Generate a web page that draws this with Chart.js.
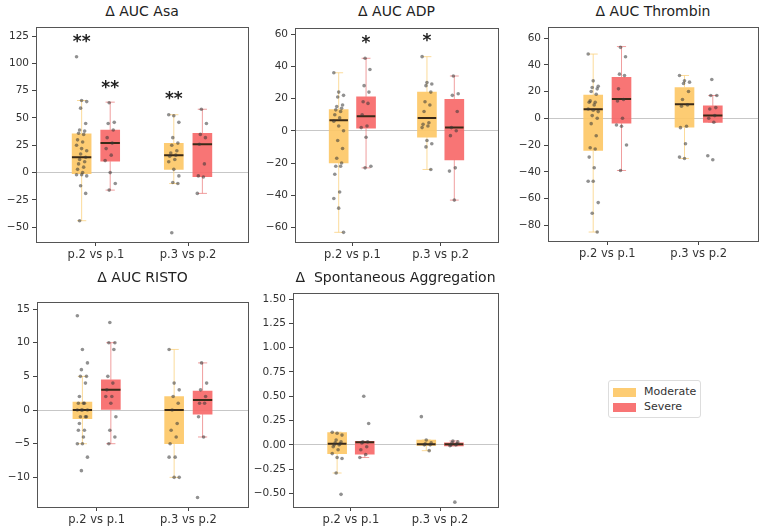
<!DOCTYPE html>
<html>
<head>
<meta charset="utf-8">
<script src="https://cdn.jsdelivr.net/npm/chart.js@4.4.1/dist/chart.umd.min.js"></script>
<style>
  body { margin: 0; background: #fff; font-family: "DejaVu Sans", sans-serif; }
  #wrap { position: relative; width: 768px; height: 531px; overflow: hidden; }
  .panel { position: absolute; }
  .title { position: absolute; font-size: 14px; color: #222; text-align: center; white-space: pre; }
  .legend { position: absolute; left: 608px; top: 380px; width: 91px; height: 36px; border: 1px solid #ddd; border-radius: 3px; font-size: 11px; color: #333; }
  .legend .row { position: absolute; left: 4px; height: 12px; }
  .legend .sw { position: absolute; left: 0; top: 2px; width: 23px; height: 9px; }
  .legend .lb { position: absolute; left: 31px; top: -1px; }
</style>
</head>
<body>
<div id="wrap"></div>
<script>
// categories / series
const groups = ['p.2 vs p.1', 'p.3 vs p.2'];
const seriesNames = ['Moderate', 'Severe'];

// box stats per group: [whisker low, q1, median, q3, whisker high]
const asaModBox = [[-44, -1, 14, 35.5, 66], [-10, 3, 16, 26.7, 53]];
const asaSevBox = [[-16, 10.5, 27, 39, 64.5], [-19, -3.6, 26, 36, 58]];
const adpModBox = [[-63, -20, 6.5, 13.2, 36], [-24, -4, 8, 24, 46]];
const adpSevBox = [[-23, 1.6, 9, 21, 45], [-43, -18, 2, 19.5, 34]];
const thrModBox = [[-85, -24, 6.8, 17.3, 48], [-30, -6.6, 10.5, 23, 32]];
const thrSevBox = [[-39, -3.7, 14.4, 30.7, 53.6], [-3, -3, 2, 9.3, 17]];
const ristoModBox = [[-5, -1.3, 0, 1.2, 5], [-10, -5, 0, 2, 9]];
const ristoSevBox = [[-5, 0, 3, 4.5, 10], [-4, -0.6, 1.5, 2.8, 7]];
const spoModBox = [[-0.29, -0.09, 0.01, 0.125, 0.13], [-0.06, -0.005, 0.005, 0.05, 0.05]];
const spoSevBox = [[-0.13, -0.095, 0.027, 0.035, 0.035], [-0.01, -0.01, 0.005, 0.02, 0.04]];

// individual observations per group
const asaModPts = [
  [106, 66, 65, 59, 45, 39, 38, 36, 35, 30, 28, 25, 22, 20, 17, 14, 12, 10, 8, 5, 3, 0, -2, -2, -3, -12, -19, -44],
  [53, 52, 46, 32, 27, 25, 20, 18, 16, 15, 12, 10, 3, -3, -9, -10, -55]];
const asaSevPts = [
  [64, 46, 45, 39, 32, 27, 22, 16, 11, 0, -10, -16],
  [58, 45, 35, 32, 26, 8, -3, -4, -19]];
const adpModPts = [
  [36, 24, 22, 21, 16, 15, 14, 13, 12, 10, 8, 6, 3, 0, -6, -11, -17, -20, -22, -22, -27, -38, -42, -48, -63],
  [46, 30, 29, 28, 24, 18, 16, 12, 5, 4, 3, 2, -6, -8, -10, -24]];
const adpSevPts = [
  [45, 38, 28, 24, 18, 17, 10, 3, 2, -4, -22, -23],
  [34, 23, 22, 12, 2, 0, -3, -23, -25, -43]];
const thrModPts = [
  [48, 28, 24, 23, 22, 20, 18, 13, 12, 12, 10, 7, 6, 5, 2, 0, -4, -13, -22, -23, -29, -37, -47, -47, -63, -71, -85],
  [32, 28, 27, 26, 20, 14, 10, 9, -6, -7, -19, -29, -30]];
const thrSevPts = [
  [53, 46, 33, 32, 22, 14, 13, 0, -5, -6, -20, -39],
  [29, 17, 17, 8, 7, 2, 0, -3, -28, -31]];
const ristoModPts = [
  [14, 9, 7, 6, 5, 5, 4, 2, 1, 1, 1, 0, 0, 0, 0, -1, -1, -1, -2, -3, -3, -4, -5, -5, -7, -9],
  [9, 4, 3, 2, 1, 0, -2, -3, -4, -5, -7, -7, -10, -10]];
const ristoSevPts = [
  [13, 10, 10, 9, 5, 4, 3, 2, 2, 1, -1, -3, -4, -5],
  [7, 4, 3, 2, 1, 1, -1, -4, -13]];
const spoModPts = [
  [0.13, 0.12, 0.10, 0.05, 0.03, 0.02, 0.01, 0.0, 0.0, -0.02, -0.05, -0.09, -0.13, -0.14, -0.29, -0.51],
  [0.29, 0.05, 0.02, 0.01, 0.0, 0.0, -0.06]];
const spoSevPts = [
  [0.50, 0.22, 0.03, 0.03, 0.02, -0.02, -0.05, -0.10, -0.13],
  [0.04, 0.03, 0.02, 0.01, 0.0, 0.0, -0.01, -0.59]];

// y tick labels
const asaTicks = [-50, -25, 0, 25, 50, 75, 100, 125];
const adpTicks = [-60, -40, -20, 0, 20, 40, 60];
const thrTicks = [-80, -60, -40, -20, 0, 20, 40, 60];
const ristoTicks = [-10, -5, 0, 5, 10, 15];
const spoTicks = [-0.5, -0.25, 0, 0.25, 0.5, 0.75, 1.0, 1.25, 1.5];

// significance marks: [group, series, y, text]
const asaMarks = [[0, 0, 122, '**'], [0, 1, 80, '**'], [1, 0, 70, '**']];
const adpMarks = [[0, 1, 56, '*'], [1, 0, 57, '*']];

const COLORS = {
  box: ['rgba(253,198,100,0.9)', 'rgba(247,102,102,0.9)'],
  whisker: ['rgba(250,210,130,0.8)', 'rgba(235,125,125,0.75)'],
  median: '#3a2a18',
  point: 'rgba(55,55,55,0.55)'
};
const X_OFF = 0.155, CAP = 0.05, MED = 0.105;

const panels = [
  { title: '\u0394 AUC Asa', L: 36, R: 248, T: 23, B: 242, tT: 3, ymin: -63.5, ymax: 133, ticks: asaTicks, dec: 0,
    box: [asaModBox, asaSevBox], pts: [asaModPts, asaSevPts], marks: asaMarks },
  { title: '\u0394 AUC ADP', L: 295, R: 498, T: 24, B: 242, tT: 3, ymin: -69, ymax: 63.6, ticks: adpTicks, dec: 0,
    box: [adpModBox, adpSevBox], pts: [adpModPts, adpSevPts], marks: adpMarks },
  { title: '\u0394 AUC Thrombin', L: 548, R: 758, T: 23, B: 241, tT: 3, ymin: -91.7, ymax: 68, ticks: thrTicks, dec: 0,
    box: [thrModBox, thrSevBox], pts: [thrModPts, thrSevPts], marks: [] },
  { title: '\u0394 AUC RISTO', L: 37, R: 248, T: 298, B: 507, tT: 269, ymin: -14.4, ymax: 16, ticks: ristoTicks, dec: 0,
    box: [ristoModBox, ristoSevBox], pts: [ristoModPts, ristoSevPts], marks: [] },
  { title: '\u0394  Spontaneous Aggregation', L: 293, R: 498, T: 289, B: 507, tT: 269, ymin: -0.64, ymax: 1.56, ticks: spoTicks, dec: 2,
    box: [spoModBox, spoSevBox], pts: [spoModPts, spoSevPts], marks: [] }
];

function jitter(i) { return (((i * 5) % 11) - 5) * 0.011; }
function fmt(v, dec) {
  const s = Math.abs(v).toFixed(dec);
  return v < 0 ? '\u2212' + s : s;
}

const framePlugin = {
  id: 'frame',
  afterDatasetsDraw(chart) {
    const { ctx, scales } = chart;
    const marks = chart.options.plugins.frame.marks || [];
    ctx.save();
    ctx.fillStyle = '#222';
    ctx.font = 'bold 17px "DejaVu Sans"';
    ctx.textAlign = 'center';
    ctx.textBaseline = 'middle';
    marks.forEach(m => {
      const x = scales.x.getPixelForValue(m[0] + (m[1] === 0 ? -X_OFF : X_OFF));
      const y = scales.y.getPixelForValue(m[2]);
      ctx.fillText(m[3], x, y + 3);
    });
    ctx.restore();
  },
  afterDraw(chart) {
    const { ctx, chartArea: a } = chart;
    ctx.save();
    ctx.strokeStyle = '#555';
    ctx.lineWidth = 1;
    ctx.strokeRect(Math.round(a.left) + 0.5, Math.round(a.top) + 0.5, Math.round(a.right - a.left), Math.round(a.bottom - a.top));
    ctx.restore();
  }
};

const wrap = document.getElementById('wrap');
const PADL = 45, PADT = 5, PADR = 5, PADB = 30;

panels.forEach(p => {
  const t = document.createElement('div');
  t.className = 'title';
  t.textContent = p.title;
  t.style.left = p.L + 'px';
  t.style.width = (p.R - p.L) + 'px';
  t.style.top = p.tT + 'px';
  wrap.appendChild(t);

  const div = document.createElement('div');
  div.className = 'panel';
  const w = p.R - p.L + PADL + PADR, h = p.B - p.T + PADT + PADB;
  div.style.left = (p.L - PADL) + 'px';
  div.style.top = (p.T - PADT) + 'px';
  div.style.width = w + 'px';
  div.style.height = h + 'px';
  const cv = document.createElement('canvas');
  div.appendChild(cv);
  wrap.appendChild(div);

  const datasets = [];
  const medData = [];
  [0, 1].forEach(s => {
    const off = s === 0 ? -X_OFF : X_OFF;
    const boxData = [], whData = [], ptData = [];
    p.box[s].forEach((b, g) => {
      const x = g + off;
      boxData.push({ x: x, y: [b[1], b[3]] });
      whData.push({ x: x, y: b[0] }, { x: x, y: b[1] }, { x: x, y: null },
                  { x: x, y: b[3] }, { x: x, y: b[4] }, { x: x, y: null },
                  { x: x - CAP, y: b[0] }, { x: x + CAP, y: b[0] }, { x: x, y: null },
                  { x: x - CAP, y: b[4] }, { x: x + CAP, y: b[4] }, { x: x, y: null });
      medData.push({ x: x - MED, y: b[2] }, { x: x + MED, y: b[2] }, { x: x, y: null });
      p.pts[s][g].forEach((v, i) => ptData.push({ x: x + jitter(i + s * 3), y: v }));
    });
    datasets.push({ type: 'bar', label: seriesNames[s], data: boxData, backgroundColor: COLORS.box[s],
      borderWidth: 0, barThickness: 19, grouped: false, order: 4 });
    datasets.push({ type: 'line', data: whData, borderColor: COLORS.whisker[s], borderWidth: 1,
      pointRadius: 0, spanGaps: false, order: 3 });
    datasets.push({ type: 'scatter', data: ptData, backgroundColor: COLORS.point, borderWidth: 0,
      pointRadius: 1.8, order: 1 });
  });
  datasets.push({ type: 'line', data: medData, borderColor: COLORS.median, borderWidth: 2,
    pointRadius: 0, spanGaps: false, order: 2 });

  new Chart(cv, {
    type: 'scatter',
    data: { datasets },
    options: {
      responsive: true,
      maintainAspectRatio: false,
      animation: false,
      layout: { padding: { left: 0, top: PADT, right: PADR, bottom: 0 } },
      plugins: { legend: { display: false }, tooltip: { enabled: false }, frame: { marks: p.marks } },
      scales: {
        x: {
          type: 'linear', min: -0.65, max: 1.65, offset: false,
          afterBuildTicks: sc => { sc.ticks = groups.map((g, i) => ({ value: i })); },
          afterFit: sc => { sc.height = PADB; },
          ticks: { callback: v => groups[v], color: '#333', font: { family: 'DejaVu Sans', size: 11.5 }, padding: 2, maxRotation: 0 },
          grid: { drawOnChartArea: false, offset: false, tickLength: 4, tickColor: '#444' },
          border: { color: '#555' }
        },
        y: {
          min: p.ymin, max: p.ymax,
          afterBuildTicks: sc => { sc.ticks = p.ticks.map(v => ({ value: v })); },
          afterFit: sc => { sc.width = PADL; },
          ticks: { callback: v => fmt(v, p.dec), color: '#333', font: { family: 'DejaVu Sans', size: 10.5 }, padding: 3 },
          grid: { color: c => (c.tick && c.tick.value === 0) ? 'rgba(0,0,0,0.22)' : 'rgba(0,0,0,0)', tickLength: 4, tickColor: '#444' },
          border: { color: '#555' }
        }
      }
    },
    plugins: [framePlugin]
  });
});

// legend
const lg = document.createElement('div');
lg.className = 'legend';
seriesNames.forEach((n, i) => {
  const r = document.createElement('div');
  r.className = 'row';
  r.style.top = (5 + i * 15) + 'px';
  r.innerHTML = '<div class="sw" style="background:' + COLORS.box[i] + '"></div><div class="lb">' + n + '</div>';
  lg.appendChild(r);
});
wrap.appendChild(lg);
</script>
</body>
</html>
